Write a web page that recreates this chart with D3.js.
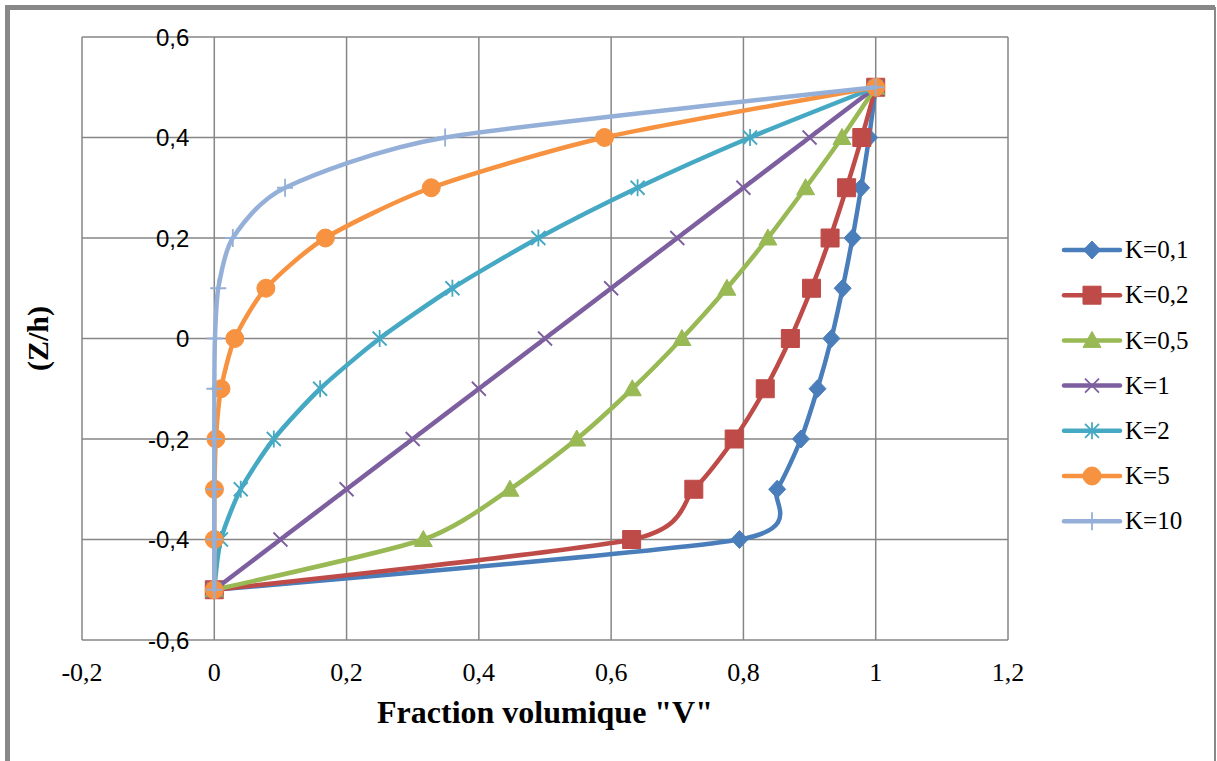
<!DOCTYPE html>
<html>
<head>
<meta charset="utf-8">
<style>
  body { margin: 0; background: #fff; }
  svg { display: block; }
</style>
<title>Fraction volumique</title>
</head>
<body>
<script src="https://cdn.jsdelivr.net/npm/d3@7"></script>
<script>

// z/h positions shared by every series
var zValues = [-0.5, -0.4, -0.3, -0.2, -0.1, 0, 0.1, 0.2, 0.3, 0.4, 0.5];

// volume fraction, one list per K
var vK01 = [0, 0.794, 0.851, 0.887, 0.912, 0.933, 0.950, 0.965, 0.978, 0.990, 1];
var vK02 = [0, 0.631, 0.725, 0.786, 0.833, 0.871, 0.903, 0.931, 0.956, 0.979, 1];
var vK05 = [0, 0.316, 0.447, 0.548, 0.632, 0.707, 0.775, 0.837, 0.894, 0.949, 1];
var vK1  = [0, 0.1, 0.2, 0.3, 0.4, 0.5, 0.6, 0.7, 0.8, 0.9, 1];
var vK2  = [0, 0.01, 0.04, 0.09, 0.16, 0.25, 0.36, 0.49, 0.64, 0.81, 1];
var vK5  = [0, 0.00001, 0.0003, 0.0024, 0.0102, 0.031, 0.078, 0.168, 0.328, 0.590, 1];
var vK10 = [0, 0, 0, 0.00001, 0.0001, 0.001, 0.006, 0.028, 0.107, 0.349, 1];

var seriesNames = ["K=0,1", "K=0,2", "K=0,5", "K=1", "K=2", "K=5", "K=10"];
var seriesValues = [vK01, vK02, vK05, vK1, vK2, vK5, vK10];

var xTicks = [-0.2, 0, 0.2, 0.4, 0.6, 0.8, 1, 1.2];
var yTicks = [-0.6, -0.4, -0.2, 0, 0.2, 0.4, 0.6];

var colors = ["#4a7ebb", "#be4b48", "#98b954", "#7d5fa0", "#46a9c4", "#f69240", "#95b0d8"];
var markers = ["diamond", "square", "triangle", "x", "star", "circle", "plus"];

var W = 1217, H = 761;
var svg = d3.select("body").append("svg")
    .attr("width", W)
    .attr("height", H);

// outer frame
svg.append("path")
    .attr("d", "M7.5,761 V7.5 H1215")
    .attr("fill", "none")
    .attr("stroke", "#888")
    .attr("stroke-width", 5);
svg.append("line")
    .attr("x1", 1215).attr("x2", 1215)
    .attr("y1", 7).attr("y2", 761)
    .attr("stroke", "#888")
    .attr("stroke-width", 2);

var x = d3.scaleLinear().domain([-0.2, 1.2]).range([82, 1008]);
var y = d3.scaleLinear().domain([-0.6, 0.6]).range([640, 37]);

// french decimal comma, plain hyphen for negatives
var fmt = function(v) { return String(+v.toFixed(1)).replace(".", ","); };

// grid
svg.append("g").selectAll("line")
    .data(xTicks)
    .enter().append("line")
    .attr("x1", function(d) { return x(d); })
    .attr("x2", function(d) { return x(d); })
    .attr("y1", y(0.6)).attr("y2", y(-0.6))
    .attr("stroke", "#868686")
    .attr("stroke-width", 1.5);

svg.append("g").selectAll("line")
    .data(yTicks)
    .enter().append("line")
    .attr("x1", x(-0.2)).attr("x2", x(1.2))
    .attr("y1", function(d) { return y(d); })
    .attr("y2", function(d) { return y(d); })
    .attr("stroke", "#868686")
    .attr("stroke-width", 1.5);

// y labels sit against the x=0 axis
svg.append("g").selectAll("text")
    .data(yTicks)
    .enter().append("text")
    .attr("x", x(0) - 25)
    .attr("y", function(d) { return y(d); })
    .attr("dy", "0.36em")
    .attr("text-anchor", "end")
    .style("font-family", "'Liberation Sans', Arial, sans-serif")
    .style("font-size", "24px")
    .text(fmt);

svg.append("g").selectAll("text")
    .data(xTicks)
    .enter().append("text")
    .attr("x", function(d) { return x(d); })
    .attr("y", 681)
    .attr("text-anchor", "middle")
    .style("font-family", "'Liberation Serif', 'Times New Roman', serif")
    .style("font-size", "26px")
    .text(fmt);

// axis titles
svg.append("text")
    .attr("x", 545)
    .attr("y", 723)
    .attr("text-anchor", "middle")
    .style("font-family", "'Liberation Serif', 'Times New Roman', serif")
    .style("font-size", "32px")
    .style("font-weight", "bold")
    .text('Fraction volumique "V"');

svg.append("text")
    .attr("transform", "translate(48," + y(0) + ") rotate(-90)")
    .attr("text-anchor", "middle")
    .style("font-family", "'Liberation Serif', 'Times New Roman', serif")
    .style("font-size", "30px")
    .style("font-weight", "bold")
    .text("(Z/h)");

function markerPath(type) {
  switch (type) {
    case "diamond": return "M0,-9L8.5,0L0,9L-8.5,0Z";
    case "square": return "M-9,-9H9V9H-9Z";
    case "triangle": return "M0,-9L9,7H-9Z";
    case "x": return "M-7,-7L7,7M-7,7L7,-7";
    case "star": return "M-7,-7L7,7M-7,7L7,-7M0,-8.5V8.5";
    case "circle": return d3.symbol(d3.symbolCircle, 254)();
    case "plus": return "M-8,0H8M0,-9V9";
  }
}
function isOpen(type) { return type == "x" || type == "star" || type == "plus"; }

var line = d3.line()
    .x(function(d) { return x(d[0]); })
    .y(function(d) { return y(d[1]); })
    .curve(d3.curveCardinal.tension(0.3));

seriesValues.forEach(function(vals, i) {
  var pts = vals.map(function(v, j) { return [v, zValues[j]]; });
  var g = svg.append("g");
  g.append("path")
      .datum(pts)
      .attr("d", line)
      .attr("fill", "none")
      .attr("stroke", colors[i])
      .attr("stroke-width", 4.5)
      .attr("stroke-linejoin", "round")
      .attr("stroke-linecap", "round");
  g.selectAll(".m")
      .data(pts)
      .enter().append("path")
      .attr("transform", function(d) { return "translate(" + x(d[0]) + "," + y(d[1]) + ")"; })
      .attr("d", markerPath(markers[i]))
      .attr("fill", isOpen(markers[i]) ? "none" : colors[i])
      .attr("stroke", colors[i])
      .attr("stroke-width", isOpen(markers[i]) ? 1.8 : 1);
});

// legend
var legend = svg.append("g").selectAll("g")
    .data(seriesNames)
    .enter().append("g")
    .attr("transform", function(d, i) { return "translate(1064," + (250 + i * 45.2) + ")"; });

legend.append("line")
    .attr("x1", 0).attr("x2", 56)
    .attr("stroke", function(d, i) { return colors[i]; })
    .attr("stroke-width", 4.5)
    .attr("stroke-linecap", "round");

legend.append("path")
    .attr("transform", "translate(28,0)")
    .attr("d", function(d, i) { return markerPath(markers[i]); })
    .attr("fill", function(d, i) { return isOpen(markers[i]) ? "none" : colors[i]; })
    .attr("stroke", function(d, i) { return colors[i]; })
    .attr("stroke-width", function(d, i) { return isOpen(markers[i]) ? 1.8 : 1; });

legend.append("text")
    .attr("x", 61)
    .attr("dy", "0.33em")
    .style("font-family", "'Liberation Serif', 'Times New Roman', serif")
    .style("font-size", "25px")
    .text(function(d) { return d; });

</script>
</body>
</html>
